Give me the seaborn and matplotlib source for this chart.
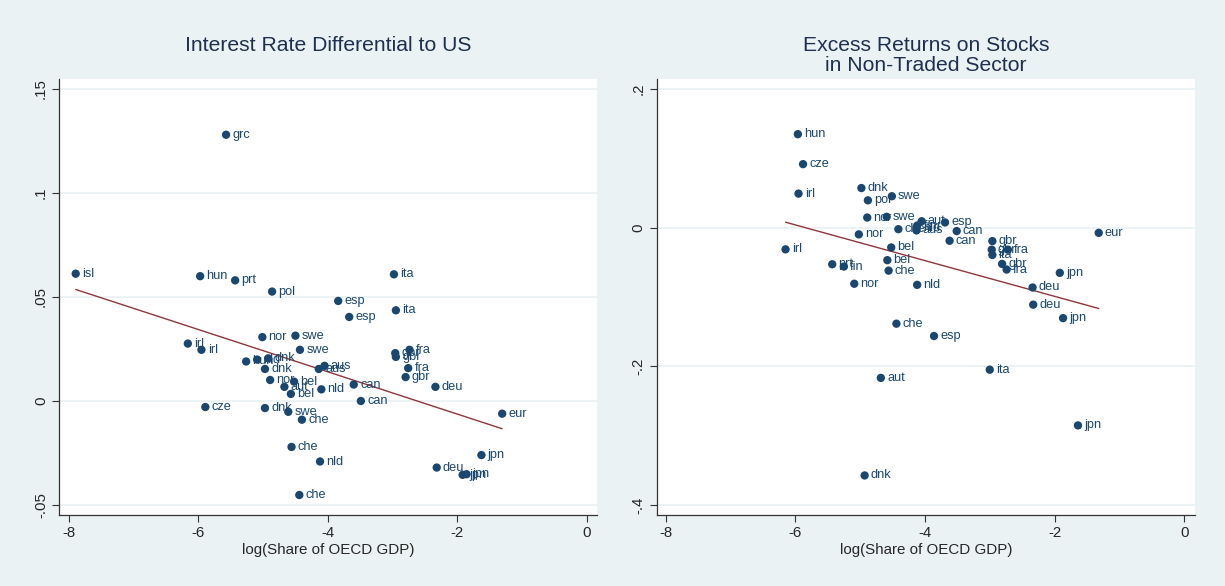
import numpy as np
import matplotlib
matplotlib.use("Agg")
import matplotlib.pyplot as plt
import pandas as pd
import seaborn as sns

# left panel: interest rate differential to US
ir_x = [-7.89, -5.57, -5.97, -5.43, -4.86, -2.98, -3.84, -3.67, -2.95, -5.01,
        -4.50, -6.16, -5.95, -4.43, -2.74, -2.96, -2.95, -2.76, -2.80, -2.34,
        -1.31, -5.26, -5.09, -4.92, -4.97, -4.05, -4.14, -4.89, -4.52, -4.67,
        -4.57, -4.10, -3.60, -3.49, -5.89, -4.97, -4.61, -4.40, -4.56, -4.12,
        -1.63, -2.32, -1.92, -1.86, -4.44]
ir_y = [0.0612, 0.128, 0.060, 0.058, 0.0526, 0.0609, 0.0481, 0.0404, 0.0436, 0.0307,
        0.0314, 0.0276, 0.0246, 0.0246, 0.0246, 0.0230, 0.0212, 0.0158, 0.0115, 0.0068,
        -0.0061, 0.0190, 0.0199, 0.0205, 0.0154, 0.0169, 0.0154, 0.0101, 0.0093, 0.0068,
        0.0034, 0.0056, 0.0079, 0.0000, -0.0029, -0.0034, -0.0052, -0.0090, -0.0221, -0.0291,
        -0.0260, -0.0320, -0.0355, -0.0352, -0.0452]
ir_lab = ["isl", "grc", "hun", "prt", "pol", "ita", "esp", "esp", "ita", "nor",
          "swe", "irl", "irl", "swe", "fra", "gbr", "gbr", "fra", "gbr", "deu",
          "eur", "hun", "nld", "dnk", "dnk", "aus", "aus", "nor", "bel", "aut",
          "bel", "nld", "can", "can", "cze", "dnk", "swe", "che", "che", "nld",
          "jpn", "deu", "jpn", "jpn", "che"]

# right panel: excess returns on stocks in non-traded sector
xr_x = [-5.96, -5.88, -5.95, -4.98, -4.51, -4.88, -4.89, -4.59, -4.05, -3.69,
        -4.41, -4.12, -4.13, -4.13, -3.51, -3.62, -5.02, -1.32, -6.15, -4.52,
        -4.58, -4.56, -5.43, -5.25, -5.09, -4.12, -2.96, -2.97, -2.72, -2.96,
        -2.81, -2.74, -1.92, -2.34, -2.33, -1.87, -4.44, -3.86, -3.00, -4.68,
        -1.64, -4.93]
xr_y = [0.1348, 0.0916, 0.0491, 0.0571, 0.0453, 0.0394, 0.0146, 0.0156, 0.0092, 0.0075,
        -0.0022, 0.0030, -0.0010, -0.0040, -0.0049, -0.0189, -0.0097, -0.0075, -0.0313, -0.0286,
        -0.0469, -0.0620, -0.0528, -0.0561, -0.0809, -0.0825, -0.0194, -0.0318, -0.0318, -0.0394,
        -0.0523, -0.0604, -0.0652, -0.0863, -0.1111, -0.1305, -0.1385, -0.1563, -0.2049, -0.2167,
        -0.2852, -0.3574]
xr_lab = ["hun", "cze", "irl", "dnk", "swe", "pol", "nor", "swe", "aut", "esp",
          "che", "fin", "nld", "aus", "can", "can", "nor", "eur", "irl", "bel",
          "bel", "che", "prt", "fin", "nor", "nld", "gbr", "gbr", "fra", "ita",
          "gbr", "fra", "jpn", "deu", "deu", "jpn", "che", "esp", "ita", "aut",
          "jpn", "dnk"]

titles = ["Interest Rate Differential to US", "Excess Returns on Stocks\nin Non-Traded Sector"]
xticks = [-8, -6, -4, -2, 0]
ir_ticks = [-0.05, 0, 0.05, 0.1, 0.15]
ir_ticklab = ["-.05", "0", ".05", ".1", ".15"]
xr_ticks = [-0.4, -0.2, 0, 0.2]
xr_ticklab = ["-.4", "-.2", "0", ".2"]

BG = "#eaf2f3"
NAVY = "#1a476f"
MAROON = "#90353b"

sns.set_style("white")
plt.rcParams["font.family"] = ["Liberation Sans", "DejaVu Sans"]

fig = plt.figure(figsize=(12.25, 5.86), dpi=100, facecolor=BG)
ax1 = fig.add_axes([0.0482, 0.1212, 0.4392, 0.744])
ax2 = fig.add_axes([0.5363, 0.1212, 0.4392, 0.744])

panels = [
    (ax1, ir_x, ir_y, ir_lab, ir_ticks, ir_ticklab, (-8.147, 0.154), (-0.0548, 0.1548)),
    (ax2, xr_x, xr_y, xr_lab, xr_ticks, xr_ticklab, (-8.133, 0.165), (-0.4144, 0.2144)),
]

for ax, xs, ys, labs, yt, ytl, xl, yl in panels:
    df = pd.DataFrame({"x": xs, "y": ys, "lab": labs})
    ax.set_facecolor("white")
    for t in yt:
        ax.axhline(t, color=BG, lw=1.3, zorder=0)
    sns.regplot(data=df, x="x", y="y", ax=ax, scatter=False, ci=None, truncate=True,
                line_kws={"color": MAROON, "lw": 1.0})
    sns.scatterplot(data=df, x="x", y="y", ax=ax, color=NAVY, s=36, edgecolor="none", zorder=3)
    for _, r in df.iterrows():
        ax.annotate(r["lab"], (r["x"], r["y"]), xytext=(4.5, 0), textcoords="offset points",
                    va="center", ha="left", fontsize=9.2, color=NAVY)
    ax.set_xlim(*xl)
    ax.set_ylim(*yl)
    ax.set_xticks(xticks)
    ax.set_xticklabels([str(v) for v in xticks])
    ax.set_yticks(yt)
    ax.set_yticklabels(ytl, rotation=90, va="center")
    ax.tick_params(axis="both", direction="out", length=5, width=0.8, color="#333333",
                   labelsize=10.8, pad=3, left=True, bottom=True)
    ax.set_xlabel("log(Share of OECD GDP)", fontsize=10.9, labelpad=2)
    ax.set_ylabel("")
    for s in ["top", "right"]:
        ax.spines[s].set_visible(False)
    for s in ["left", "bottom"]:
        ax.spines[s].set_color("#333333")
        ax.spines[s].set_linewidth(0.9)

for ax, t in zip([ax1, ax2], titles):
    pos = ax.get_position()
    fig.text(pos.x0 + pos.width / 2, 1 - 36 / 586, t, ha="center", va="top",
             fontsize=15.2, color="#1e2f4f", linespacing=1.05)

fig.savefig("out.png", dpi=100, facecolor=BG)
